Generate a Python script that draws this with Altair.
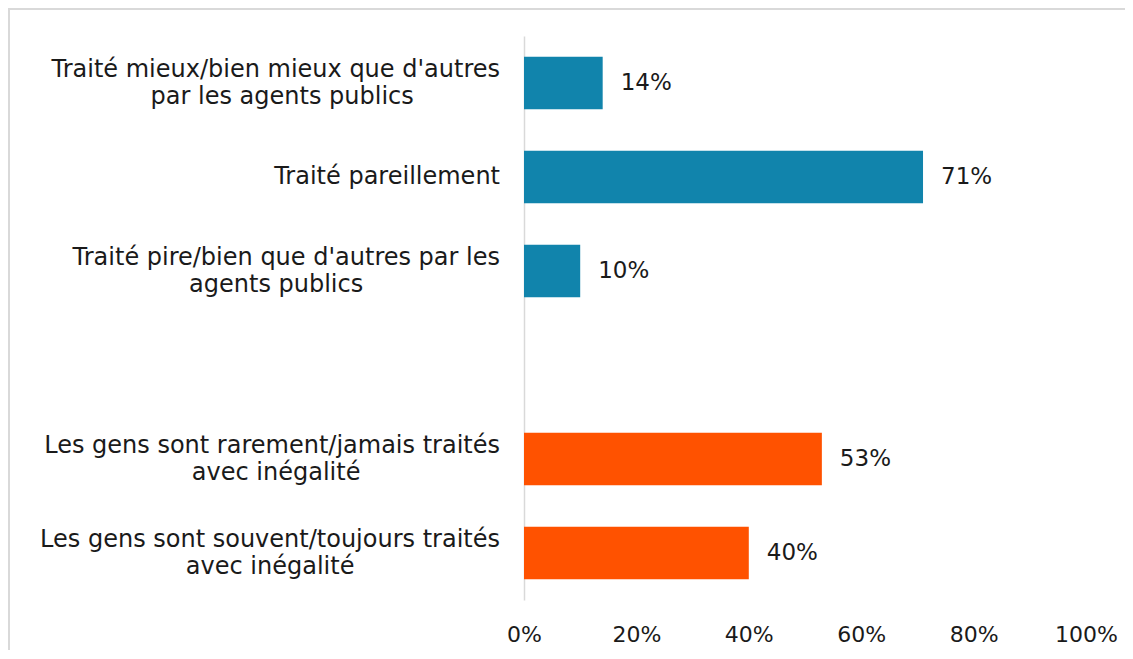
import altair as alt
import pandas as pd

categories = [
    "Traité mieux/bien mieux que d'autres|par les agents publics",
    "Traité pareillement",
    "Traité pire/bien que d'autres par les|agents publics",
    "Les gens sont rarement/jamais traités|avec inégalité",
    "Les gens sont souvent/toujours traités|avec inégalité",
]
values = [14, 71, 10, 53, 40]
groups = ["agents", "agents", "agents", "gens", "gens"]
value_labels = ["14%", "71%", "10%", "53%", "40%"]
x_ticks = [0, 20, 40, 60, 80, 100]

domain_order = categories[:3] + [" "] + categories[3:]

df = pd.DataFrame({"cat": categories, "val": values, "grp": groups, "lbl": value_labels})

FONT = "DejaVu Sans"
CAT_SIZE = 24
TXT = "#1a1a1a"

y_scale = alt.Scale(domain=domain_order, paddingInner=0.44, paddingOuter=0.22)

y_enc = alt.Y(
    "cat:N",
    sort=domain_order,
    scale=y_scale,
    axis=alt.Axis(
        title=None,
        ticks=False,
        labels=False,
        domain=True,
        domainColor="#D9D9D9",
        domainWidth=1.5,
    ),
)

x_enc = alt.X(
    "val:Q",
    scale=alt.Scale(domain=[0, 100]),
    axis=alt.Axis(
        title=None,
        values=x_ticks,
        labelExpr="datum.value + '%'",
        domain=False,
        ticks=False,
        grid=False,
        labelFlush=False,
        labelPadding=24,
        labelFont=FONT,
        labelFontSize=22,
        labelColor=TXT,
    ),
)

bars = alt.Chart(df).mark_bar().encode(
    x=x_enc,
    y=y_enc,
    color=alt.Color(
        "grp:N",
        scale=alt.Scale(domain=["agents", "gens"], range=["#1184AC", "#FF5200"]),
        legend=None,
    ),
)

texts = alt.Chart(df).mark_text(
    align="left", baseline="middle", dx=18, font=FONT, fontSize=23, color=TXT
).encode(
    x=alt.X("val:Q"),
    y=alt.Y("cat:N", sort=domain_order),
    text="lbl:N",
)

base_lab = alt.Chart(df).transform_calculate(
    line1="split(datum.cat, '|')[0]",
    line2="length(split(datum.cat, '|')) > 1 ? split(datum.cat, '|')[1] : ''",
)

# first line of each category label, right aligned next to the axis
lab1 = base_lab.mark_text(
    align="right",
    baseline="middle",
    font=FONT,
    fontSize=CAT_SIZE,
    color=TXT,
    dx=-24,
    dy=alt.expr("datum.line2 == '' ? 0 : -13.5"),
).encode(
    x=alt.value(0),
    y=alt.Y("cat:N", sort=domain_order),
    text="line1:N",
)

# second line, centred under the first line
lab2 = base_lab.transform_filter("datum.line2 != ''").mark_text(
    align="center",
    baseline="middle",
    font=FONT,
    fontSize=CAT_SIZE,
    color=TXT,
    dx=alt.expr("-24 - length(datum.line1) * 6.05"),
    dy=13.5,
).encode(
    x=alt.value(0),
    y=alt.Y("cat:N", sort=domain_order),
    text="line2:N",
)

frame = alt.Chart(pd.DataFrame({"a": [0]})).mark_rect(
    fill=None, stroke="#D9D9D9", strokeWidth=2
).encode(
    x=alt.value(-515), x2=alt.value(700), y=alt.value(-27), y2=alt.value(700)
)

chart = (
    alt.layer(frame, bars, texts, lab1, lab2)
    .properties(
        width=562,
        height=564,
        background="white",
        autosize=alt.AutoSizeParams(type="none"),
        padding={"left": 516, "top": 28, "right": 39, "bottom": 50},
    )
    .configure_view(strokeWidth=0, stroke=None)
)

chart.save("out.html", embed_options={"renderer": "svg", "actions": False})
